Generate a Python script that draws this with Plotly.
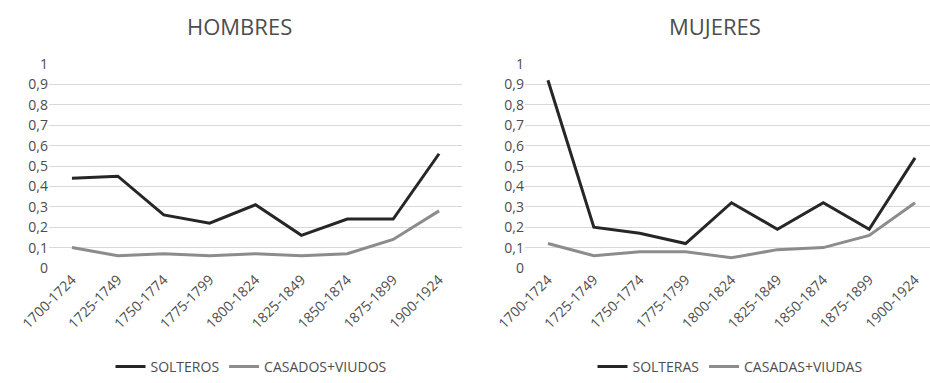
import plotly.graph_objects as go

periods = ["1700-1724", "1725-1749", "1750-1774", "1775-1799", "1800-1824",
           "1825-1849", "1850-1874", "1875-1899", "1900-1924"]
solteros = [0.44, 0.45, 0.26, 0.22, 0.31, 0.16, 0.24, 0.24, 0.56]
casados_viudos = [0.10, 0.06, 0.07, 0.06, 0.07, 0.06, 0.07, 0.14, 0.28]
solteras = [0.92, 0.20, 0.17, 0.12, 0.32, 0.19, 0.32, 0.19, 0.54]
casadas_viudas = [0.12, 0.06, 0.08, 0.08, 0.05, 0.09, 0.10, 0.16, 0.32]
y_ticks = [0, 0.1, 0.2, 0.3, 0.4, 0.5, 0.6, 0.7, 0.8, 0.9, 1]

DARK = "#262626"
GRAY = "#8c8c8c"
TXT = "#4d4d4d"
FONT = "Open Sans"
W, H = 930, 383

fig = go.Figure()
fig.add_trace(go.Scatter(x=periods, y=solteros, mode="lines", name="SOLTEROS",
                         line=dict(color=DARK, width=3), xaxis="x", yaxis="y", legend="legend"))
fig.add_trace(go.Scatter(x=periods, y=casados_viudos, mode="lines", name="CASADOS+VIUDOS",
                         line=dict(color=GRAY, width=3), xaxis="x", yaxis="y", legend="legend"))
fig.add_trace(go.Scatter(x=periods, y=solteras, mode="lines", name="SOLTERAS",
                         line=dict(color=DARK, width=3), xaxis="x2", yaxis="y2", legend="legend2"))
fig.add_trace(go.Scatter(x=periods, y=casadas_viudas, mode="lines", name="CASADAS+VIUDAS",
                         line=dict(color=GRAY, width=3), xaxis="x2", yaxis="y2", legend="legend2"))

xcommon = dict(type="category", tickangle=-45, showgrid=False, zeroline=False,
               showline=False, ticks="", automargin=False,
               tickfont=dict(family=FONT, size=14, color=TXT))
ycommon = dict(range=[0, 1], tickvals=y_ticks, showgrid=True, gridcolor="#d9d9d9",
               gridwidth=1, zeroline=False, showline=False, ticks="", automargin=False,
               tickfont=dict(family=FONT, size=14, color=TXT),
               domain=[(H - 268) / H, (H - 64) / H])

legcommon = dict(orientation="h", xanchor="center", yanchor="bottom", y=0.0,
                 font=dict(family=FONT, size=14, color=TXT), bgcolor="rgba(0,0,0,0)",
                 itemwidth=30, tracegroupgap=0)

fig.update_layout(
    width=W, height=H,
    margin=dict(l=0, r=0, t=0, b=0, autoexpand=False),
    paper_bgcolor="white", plot_bgcolor="white",
    separators=", ",
    showlegend=True,
    xaxis=dict(domain=[49 / W, 462 / W], anchor="y", range=[-0.5, 8.5], **xcommon),
    yaxis=dict(anchor="x", **ycommon),
    xaxis2=dict(domain=[525 / W, 1.0], anchor="y2", range=[-0.5, 8.5 - 8 / 45.9], **xcommon),
    yaxis2=dict(anchor="x2", **ycommon),
    legend=dict(x=251 / W, **legcommon),
    legend2=dict(x=730 / W, **legcommon),
    annotations=[
        dict(text="HOMBRES", x=239 / W, y=(H - 26) / H, xref="paper", yref="paper",
             xanchor="center", yanchor="middle",
             showarrow=False, font=dict(family=FONT, size=22, color=TXT)),
        dict(text="MUJERES", x=715 / W, y=(H - 26) / H, xref="paper", yref="paper",
             xanchor="center", yanchor="middle",
             showarrow=False, font=dict(family=FONT, size=22, color=TXT)),
    ],
)

fig.write_html("out.html")
